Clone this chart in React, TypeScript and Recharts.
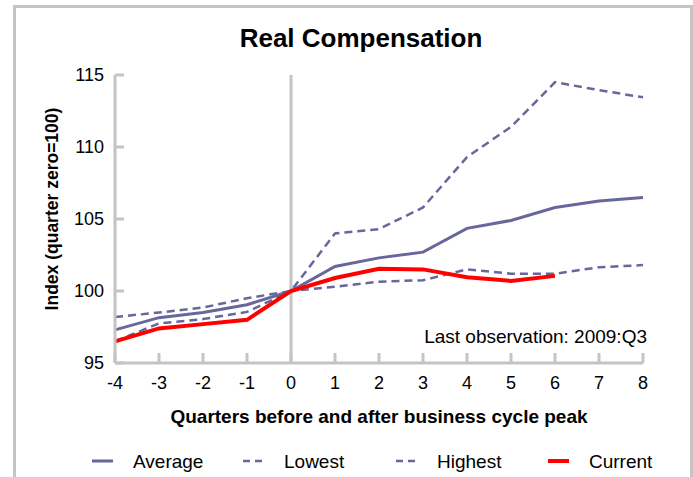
import { LineChart, Line, XAxis, YAxis, ReferenceLine } from "recharts"

const quarters = [-4, -3, -2, -1, 0, 1, 2, 3, 4, 5, 6, 7, 8]
const average = [97.3, 98.15, 98.5, 99.05, 100, 101.7, 102.3, 102.7, 104.35, 104.9, 105.8, 106.25, 106.5]
const lowest = [96.5, 97.75, 98.05, 98.55, 100, 100.3, 100.65, 100.75, 101.5, 101.2, 101.2, 101.65, 101.8]
const highest = [98.2, 98.5, 98.85, 99.5, 100, 104.0, 104.3, 105.8, 109.3, 111.4, 114.5, 113.95, 113.45]
const current: (number | null)[] = [96.5, 97.4, 97.7, 98.0, 100, 100.9, 101.55, 101.5, 100.95, 100.7, 101.05, null, null]
const yTicks = [95, 100, 105, 110, 115]

const chartData = quarters.map((q, i) => ({
    q,
    average: average[i],
    lowest: lowest[i],
    highest: highest[i],
    current: current[i],
}))

const SLATE = "#67679c"
const GREY = "#c4c4c4"
const FONT = "'Liberation Sans', Arial, Helvetica, sans-serif"

const series = [
    { key: "average", name: "Average", color: SLATE, width: 3, dash: undefined as string | undefined, legendX: 92 },
    { key: "lowest", name: "Lowest", color: SLATE, width: 2.5, dash: "8 5", legendX: 243 },
    { key: "highest", name: "Highest", color: SLATE, width: 2.5, dash: "8 5", legendX: 396 },
    { key: "current", name: "Current", color: "#ff0000", width: 4, dash: undefined as string | undefined, legendX: 548 },
]

export default function App() {
    return (
        <div style={{ position: "absolute", left: 0, top: 0, width: 693, height: 477, background: "#fff", overflow: "hidden", fontFamily: FONT }}>
            <div style={{ position: "absolute", left: 13, top: 5, width: 674, height: 480, border: `3px solid ${GREY}`, borderBottom: "none" }} />
            <div style={{ position: "absolute", left: 0, top: 0 }}>
                <LineChart width={693} height={477} data={chartData} margin={{ top: 75, right: 50, bottom: 74, left: 55 }}>
                    <XAxis
                        dataKey="q"
                        type="number"
                        domain={[-4, 8]}
                        ticks={quarters}
                        height={40}
                        stroke={GREY}
                        axisLine={{ stroke: GREY, strokeWidth: 3 }}
                        tickLine={{ stroke: GREY, strokeWidth: 3 }}
                        tickSize={-10}
                        tickMargin={23}
                        tick={{ fill: "#000", fontSize: 18, fontFamily: FONT }}
                    />
                    <YAxis
                        type="number"
                        domain={[95, 115]}
                        ticks={yTicks}
                        width={60}
                        axisLine={{ stroke: GREY, strokeWidth: 3 }}
                        tickLine={{ stroke: GREY, strokeWidth: 3 }}
                        tickSize={-9}
                        tickMargin={20}
                        tick={{ fill: "#000", fontSize: 18, fontFamily: FONT }}
                    />
                    <ReferenceLine x={0} stroke={GREY} strokeWidth={3} />
                    {series.map(s => (
                        <Line
                            key={s.key}
                            dataKey={s.key}
                            type="linear"
                            stroke={s.color}
                            strokeWidth={s.width}
                            strokeDasharray={s.dash}
                            dot={false}
                            activeDot={false}
                            connectNulls={false}
                            isAnimationActive={false}
                        />
                    ))}
                </LineChart>
            </div>
            <svg width={693} height={477} style={{ position: "absolute", left: 0, top: 0, pointerEvents: "none" }}>
                <text x={361} y={47} textAnchor="middle" fontSize={26} fontWeight="bold" fill="#000" fontFamily={FONT}>Real Compensation</text>
                <text x={379} y={423} textAnchor="middle" fontSize={19} fontWeight="bold" fill="#000" fontFamily={FONT}>Quarters before and after business cycle peak</text>
                <text x={57.5} y={209} textAnchor="middle" fontSize={17.5} fontWeight="bold" fill="#000" fontFamily={FONT} transform="rotate(-90 57.5 209)">Index (quarter zero=100)</text>
                <text x={647} y={343} textAnchor="end" fontSize={19} fill="#000" fontFamily={FONT}>Last observation: 2009:Q3</text>
                {series.map(s => (
                    <g key={s.key}>
                        <line x1={s.legendX} x2={s.legendX + 21} y1={461} y2={461} stroke={s.color} strokeWidth={s.width} strokeDasharray={s.dash ? "7 5" : undefined} />
                        <text x={s.legendX + 41} y={468} fontSize={19} fill="#000" fontFamily={FONT}>{s.name}</text>
                    </g>
                ))}
            </svg>
        </div>
    )
}
